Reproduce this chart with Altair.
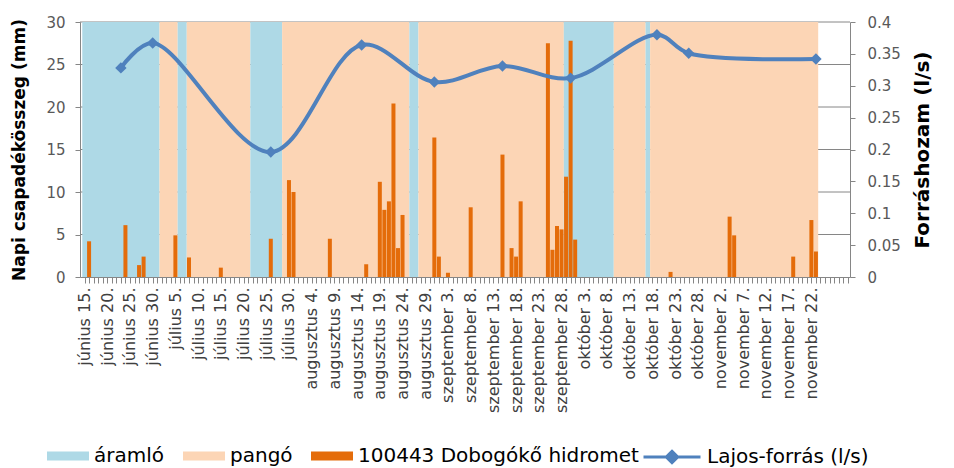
import json
import altair as alt
import pandas as pd

# ---------------- data (day 0 = június 15.) ----------------
tick_labels = [
    "június 15.", "június 20.", "június 25.", "június 30.",
    "július 5.", "július 10.", "július 15.", "július 20.", "július 25.", "július 30.",
    "augusztus 4.", "augusztus 9.", "augusztus 14.", "augusztus 19.", "augusztus 24.", "augusztus 29.",
    "szeptember 3.", "szeptember 8.", "szeptember 13.", "szeptember 18.", "szeptember 23.", "szeptember 28.",
    "október 3.", "október 8.", "október 13.", "október 18.", "október 23.", "október 28.",
    "november 2.", "november 7.", "november 12.", "november 17.", "november 22.",
]
n_days = 169

band_start = [0, 17, 21, 23, 37, 44, 72, 74, 106, 117, 124, 125]
band_end = [17, 21, 23, 37, 44, 72, 74, 106, 117, 124, 125, 162]
band_type = ["áramló", "pangó", "áramló", "pangó", "áramló", "pangó",
             "áramló", "pangó", "áramló", "pangó", "áramló", "pangó"]

rain_day = [1, 9, 12, 13, 20, 23, 30, 41, 45, 46, 54, 62, 65, 66, 67, 68, 69, 70,
            77, 78, 80, 85, 92, 94, 95, 96, 102, 103, 104, 105, 106, 107, 108,
            129, 142, 143, 156, 160, 161]
rain_mm = [4.2, 6.1, 1.4, 2.4, 4.9, 2.3, 1.1, 4.5, 11.4, 10.0, 4.5, 1.5, 11.2, 7.9, 8.9, 20.4, 3.4, 7.3,
           16.4, 2.4, 0.5, 8.2, 14.4, 3.4, 2.4, 8.9, 27.5, 3.2, 6.0, 5.6, 11.8, 27.8, 4.4,
           0.6, 7.1, 4.9, 2.4, 6.7, 3.0]

flow_day = [8, 15, 41, 61, 77, 92, 107, 126, 133, 161]
flow_ls = [0.328, 0.367, 0.196, 0.364, 0.306, 0.331, 0.312, 0.380, 0.351, 0.342]

left_ticks = [0, 5, 10, 15, 20, 25, 30]
right_ticks = [0, 0.05, 0.1, 0.15, 0.2, 0.25, 0.3, 0.35, 0.4]

fill_names = ["áramló", "pangó", "100443 Dobogókő hidromet"]
fill_colors = ["#AED9E6", "#FCD5B5", "#E46C0A"]
line_name = "Lajos-forrás (l/s)"
line_color = "#4F81BD"

# ---------------- tables ----------------
bands = pd.DataFrame({
    "x0": [s - 0.5 for s in band_start],
    "x1": [e - 0.5 for e in band_end],
    "kat": band_type,
})
rain = pd.DataFrame({"day": rain_day, "mm": rain_mm, "kat": fill_names[2]})
flow = pd.DataFrame({"day": flow_day, "ls": flow_ls, "kat": line_name})
grid = pd.DataFrame({"mm": left_ticks[1:]})

FONT = "DejaVu Sans"
GREY = "#868686"

label_arr = json.dumps(tick_labels, ensure_ascii=False)
x_label_expr = (f"(datum.value % 5 == 0 && datum.value <= 160) ? "
                f"{label_arr}[datum.value / 5] : ''")

x_scale = alt.Scale(domain=[-1, 168.5], nice=False, zero=False, padding=0)
x_axis = alt.Axis(
    values=list(range(n_days)), labelExpr=x_label_expr, labelAngle=270,
    labelOverlap=False, labelFont=FONT, labelFontSize=16, labelColor="#404040",
    labelPadding=4, tickSize=6, tickColor=GREY, domainColor=GREY, grid=False,
    zindex=1, labelBound=False, labelFlush=False,
)
fill_scale = alt.Scale(domain=fill_names, range=fill_colors)
y_left_scale = alt.Scale(domain=[0, 30], nice=False)
y_left_axis = alt.Axis(
    values=left_ticks, title="Napi csapadékösszeg (mm)",
    titleFont=FONT, titleFontSize=17, titleFontWeight="bold",
    titleColor="#000000", titlePadding=17,
    labelFont=FONT, labelFontSize=15, labelColor="#595959",
    labelPadding=10, tickSize=5, tickColor=GREY, domainColor=GREY, grid=False,
)

rect_path = "M-1,-0.21L1,-0.21L1,0.21L-1,0.21Z"
line_path = "M-1,0L1,0M0,-0.2L0.2,0L0,0.2L-0.2,0Z"

fill_legend = alt.Legend(
    title=None, orient="none", direction="horizontal", legendX=-33, legendY=413,
    labelFont=FONT, labelFontSize=20, labelColor="#000000", labelLimit=500,
    symbolType=rect_path, symbolSize=1764, symbolOpacity=1, symbolStrokeWidth=0,
    labelOffset=5, columnPadding=18,
)
line_legend = alt.Legend(
    title=None, orient="none", direction="horizontal", legendX=562, legendY=405,
    labelFont=FONT, labelFontSize=20, labelColor="#000000", labelLimit=500,
    symbolType=line_path, symbolSize=3249, symbolStrokeWidth=3,
    symbolFillColor=line_color, symbolStrokeColor=line_color, labelOffset=5,
)

grid_layer = alt.Chart(grid).mark_rule(color=GREY, strokeWidth=1).encode(
    y=alt.Y("mm:Q", scale=y_left_scale, axis=y_left_axis),
)

band_layer = alt.Chart(bands).mark_rect().encode(
    x=alt.X("x0:Q", scale=x_scale, axis=x_axis, title=None),
    x2="x1:Q",
    fill=alt.Fill("kat:N", scale=fill_scale, legend=fill_legend),
)

rain_layer = alt.Chart(rain).mark_bar(size=4).encode(
    x=alt.X("day:Q", scale=x_scale, axis=x_axis, title=None),
    y=alt.Y("mm:Q", scale=y_left_scale, axis=y_left_axis),
    fill=alt.Fill("kat:N", scale=fill_scale),
)

right_axis = alt.Axis(
    orient="right", values=right_ticks, format=".2~f",
    title="Forráshozam (l/s)", titleAngle=270, titleBaseline="top", titleFont=FONT,
    titleFontSize=20, titleFontWeight="bold", titleColor="#000000", titlePadding=12,
    labelFont=FONT, labelFontSize=15, labelColor="#595959", labelPadding=12,
    tickSize=5, tickColor=GREY, domainColor=GREY, grid=False,
)
y_right = alt.Y("ls:Q", scale=alt.Scale(domain=[0, 0.4], nice=False), axis=right_axis)

line_layer = alt.Chart(flow).mark_line(strokeWidth=4, interpolate="catmull-rom").encode(
    x=alt.X("day:Q", scale=x_scale, axis=x_axis, title=None),
    y=y_right,
    stroke=alt.Stroke("kat:N", scale=alt.Scale(domain=[line_name], range=[line_color]),
                      legend=line_legend),
)
point_layer = alt.Chart(flow).mark_point(shape="diamond", filled=True, size=130, opacity=1,
                                         color=line_color).encode(
    x=alt.X("day:Q", scale=x_scale, axis=x_axis, title=None),
    y=y_right,
)

left = alt.layer(grid_layer, band_layer, rain_layer)
right = alt.layer(line_layer, point_layer)

chart = alt.layer(left, right).resolve_scale(y="independent").properties(
    width=770, height=255,
    autosize=alt.AutoSizeParams(type="none"),
    padding={"left": 72, "top": 14, "right": 90, "bottom": 191},
    background="white",
).configure_view(strokeWidth=0)

chart.save("out.html", embed_options={"renderer": "svg", "actions": False})
